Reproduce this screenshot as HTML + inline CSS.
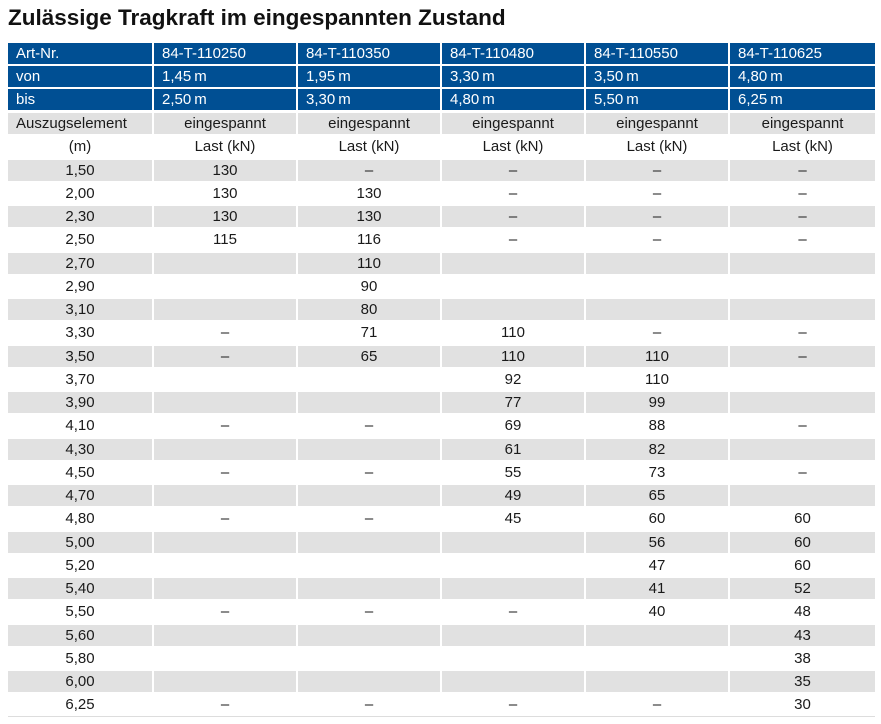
<!DOCTYPE html>
<html><head><meta charset="utf-8"><style>
body{margin:0;width:881px;height:724px;background:#fff;font-family:"Liberation Sans",sans-serif;position:relative;overflow:hidden;color:#1a1a1a}
.t{position:absolute;left:8px;top:5px;font-size:22.5px;font-weight:bold;color:#111}
.c{position:absolute;height:21px;line-height:22px;font-size:15px;box-sizing:border-box;white-space:nowrap}
.b{background:#004f93;color:#fff;padding-left:8px}
.g{background:#e1e1e1}
</style></head><body>
<div class="t">Zulässige Tragkraft im eingespannten Zustand</div>
<div id="r"></div>
<div style="position:absolute;left:8px;top:716px;width:867px;height:1px;background:#ddd"></div>
<script>
(function(){
var X=[[8,144],[154,142],[298,142],[442,142],[586,142],[730,145]];
var H=[["Art-Nr.","84-T-110250","84-T-110350","84-T-110480","84-T-110550","84-T-110625"],
["von","1,45\u2009m","1,95\u2009m","3,30\u2009m","3,50\u2009m","4,80\u2009m"],
["bis","2,50\u2009m","3,30\u2009m","4,80\u2009m","5,50\u2009m","6,25\u2009m"]];
var HT=[43,66,89];
var s="";
for(var i=0;i<3;i++)for(var j=0;j<6;j++)s+='<div class="c b" style="left:'+X[j][0]+'px;top:'+HT[i]+'px;width:'+X[j][1]+'px">'+H[i][j]+'</div>';
var d="–";
var R=[["Auszugselement","eingespannt","eingespannt","eingespannt","eingespannt","eingespannt"],
["(m)","Last (kN)","Last (kN)","Last (kN)","Last (kN)","Last (kN)"],
["1,50","130",d,d,d,d],["2,00","130","130",d,d,d],["2,30","130","130",d,d,d],["2,50","115","116",d,d,d],
["2,70","","110","","",""],["2,90","","90","","",""],["3,10","","80","","",""],
["3,30",d,"71","110",d,d],["3,50",d,"65","110","110",d],["3,70","","","92","110",""],["3,90","","","77","99",""],
["4,10",d,d,"69","88",d],["4,30","","","61","82",""],["4,50",d,d,"55","73",d],["4,70","","","49","65",""],
["4,80",d,d,"45","60","60"],["5,00","","","","56","60"],["5,20","","","","47","60"],["5,40","","","","41","52"],
["5,50",d,d,d,"40","48"],["5,60","","","","","43"],["5,80","","","","","38"],["6,00","","","","","35"],["6,25",d,d,d,d,"30"]];
for(var i=0;i<R.length;i++){var ty=113+i*23.25;var g=(i%2==0);
for(var j=0;j<6;j++){var st=(i==0&&j==0)?'padding-left:8px':'text-align:center';
s+='<div class="c'+(g?' g':'')+'" style="left:'+X[j][0]+'px;top:'+ty+'px;width:'+X[j][1]+'px;'+st+'">'+R[i][j]+'</div>';}}
document.getElementById("r").innerHTML=s;
})();
</script>
</body></html>
